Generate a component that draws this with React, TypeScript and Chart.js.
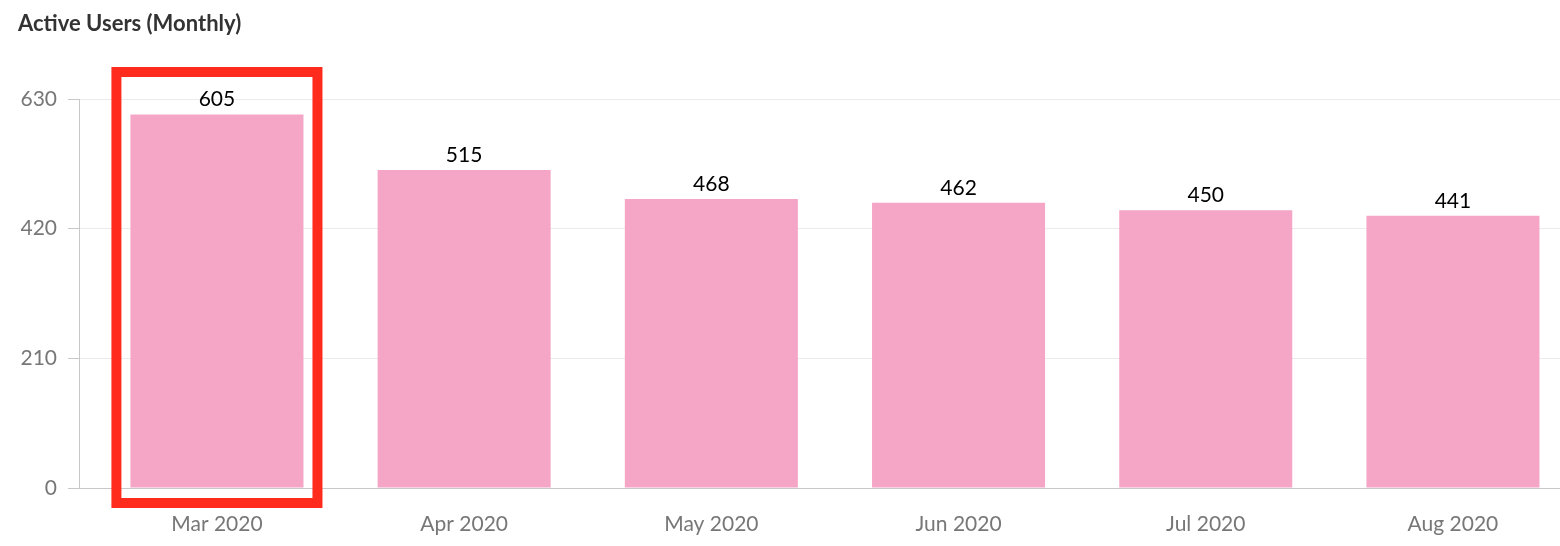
import React, { useEffect, useRef } from "react";
import { Chart, registerables } from "chart.js";

Chart.register(...registerables);

const categories = ["Mar 2020", "Apr 2020", "May 2020", "Jun 2020", "Jul 2020", "Aug 2020"];
const activeUsers = [605, 515, 468, 462, 450, 441];
const yMax = 630;
const yStep = 210;
const highlightIndex = 0;
const chartTitle = "Active Users (Monthly)";

const FONT = "Lato, 'Open Sans', sans-serif";

const dataLabels = {
  id: "dataLabels",
  afterDatasetsDraw(chart: any) {
    const ctx = chart.ctx;
    const meta = chart.getDatasetMeta(0);
    ctx.save();
    ctx.font = `21px ${FONT}`;
    ctx.fillStyle = "#000";
    ctx.textAlign = "center";
    ctx.textBaseline = "alphabetic";
    meta.data.forEach((el: any, i: number) => {
      ctx.fillText(String(activeUsers[i]), el.x, el.y - 8);
    });
    ctx.restore();
  },
};

const highlight = {
  id: "highlight",
  afterDraw(chart: any) {
    const el = chart.getDatasetMeta(0).data[highlightIndex];
    if (!el) return;
    const ctx = chart.ctx;
    const area = chart.chartArea;
    const left = el.x - el.width / 2 - 14;
    const right = el.x + el.width / 2 + 14;
    const top = area.top - 27;
    const bottom = area.bottom + 15;
    ctx.save();
    ctx.strokeStyle = "#ff2b1c";
    ctx.lineWidth = 10;
    ctx.strokeRect(left, top, right - left, bottom - top);
    ctx.restore();
  },
};

export default function App() {
  const ref = useRef<HTMLCanvasElement | null>(null);
  useEffect(() => {
    document.body.style.margin = "0";
    if (!ref.current) return;
    const chart = new Chart(ref.current, {
      type: "bar",
      data: {
        datasets: [
          {
            label: chartTitle,
            data: activeUsers.map((v, i) => ({ x: i, y: v })),
            backgroundColor: "#f5a6c7",
            borderWidth: 0,
            barPercentage: 0.7,
            categoryPercentage: 1,
          },
        ],
      },
      options: {
        animation: false,
        responsive: false,
        layout: { padding: { left: 18, right: 0, top: 0, bottom: 0 } },
        plugins: {
          legend: { display: false },
          tooltip: { enabled: false },
          title: {
            display: true,
            text: chartTitle,
            align: "start",
            color: "#333",
            font: { family: FONT, size: 22, weight: "bold" },
            padding: { top: 11, bottom: 61.6 },
          },
        },
        scales: {
          x: {
            type: "linear",
            offset: false,
            min: -0.558,
            max: 5.433,
            grid: { display: false },
            border: { display: true, color: "#c8c8c8", width: 1 },
            ticks: {
              stepSize: 1,
              autoSkip: false,
              includeBounds: false,
              maxRotation: 0,
              padding: 16,
              color: "#777",
              font: { family: FONT, size: 21 },
              callback: (v: any) => {
                const n = Number(v);
                return Number.isInteger(n) && n >= 0 && n < categories.length ? categories[n] : "";
              },
            },
            afterFit: (s: any) => {
              s.height = 58;
            },
          },
          y: {
            min: 0,
            max: yMax,
            grid: { color: "#ebebeb", tickColor: "#c8c8c8", tickLength: 11 },
            border: { display: true, color: "#c8c8c8", width: 1 },
            ticks: {
              stepSize: yStep,
              padding: 11,
              color: "#777",
              font: { family: FONT, size: 21 },
            },
            afterFit: (s: any) => {
              s.width = 61;
            },
          },
        },
      },
      plugins: [dataLabels, highlight],
    } as any);
    return () => chart.destroy();
  }, []);
  return (
    <div style={{ width: 1560, height: 546 }}>
      <canvas ref={ref} width={1560} height={546} />
    </div>
  );
}
